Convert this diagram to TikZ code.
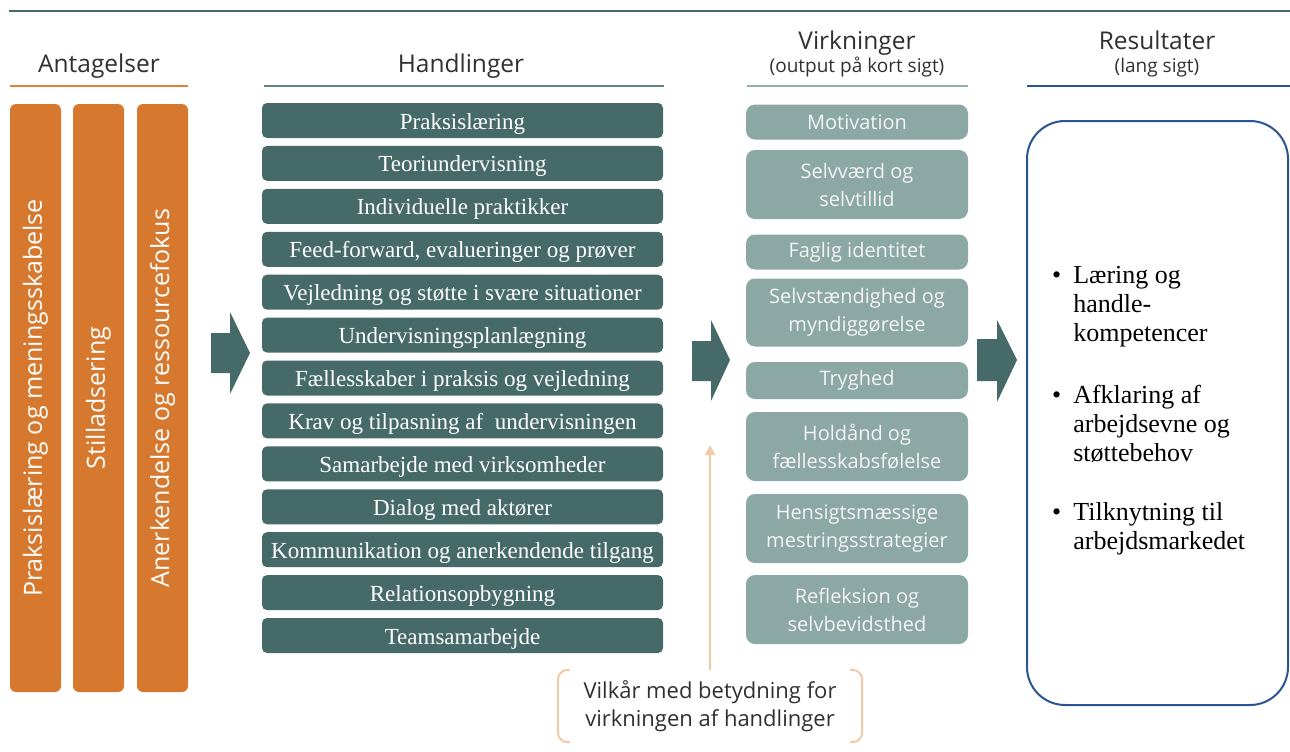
\documentclass[tikz,border=0pt]{standalone}
\usepackage{fontspec}
\setmainfont{Liberation Serif}
\newfontfamily\uifont{Open Sans}
\usetikzlibrary{arrows.meta}

\definecolor{tealdark}{HTML}{466A67}
\definecolor{tealmid}{HTML}{5E8380}
\definecolor{teallight}{HTML}{8BA8A4}
\definecolor{teallightline}{HTML}{92B2AD}
\definecolor{pillarorange}{HTML}{D6792F}
\definecolor{orangeline}{HTML}{E07F35}
\definecolor{resblue}{HTML}{2A5592}
\definecolor{peach}{HTML}{F4C9A6}
\definecolor{headgray}{HTML}{303030}
\definecolor{effecttext}{HTML}{F4F4F4}

\begin{document}
\begin{tikzpicture}[x=1pt, y=-1pt,
	head/.style={font=\uifont\fontsize{24.5}{28}\selectfont, text=headgray, inner sep=0, anchor=base},
	sub/.style={font=\uifont\fontsize{19}{22}\selectfont, text=headgray, inner sep=0, anchor=base},
	pillar/.style={fill=pillarorange, rounded corners=6, minimum width=588, minimum height=51, inner sep=0,
		rotate=90, text=white, font=\uifont\fontsize{25}{30}\selectfont},
	act/.style={fill=tealdark, rounded corners=5, minimum width=401, minimum height=35, inner sep=0,
		text height=17pt, text depth=0pt, text=white, font=\fontsize{23}{26}\selectfont},
	effect/.style={fill=teallight, rounded corners=9, minimum width=222, inner sep=0, align=center,
		text=effecttext, font=\uifont\fontsize{20}{28}\selectfont},
	blockarrow/.style={fill=tealdark},
	result/.style={font=\fontsize{26}{29}\selectfont, inner sep=0, anchor=base west},
	cond/.style={minimum width=304, minimum height=72, inner sep=0, align=center,
		text=headgray, font=\uifont\fontsize{22}{28}\selectfont},
	bracket/.style={draw=peach, line width=2, rounded corners=10},
	condarrow/.style={draw=peach, line width=2, -{Triangle[width=10pt,length=10pt]}}
	]
	\useasboundingbox (0,0) rectangle (1290,752);
	\draw[tealdark, line width=2.5] (9,11) -- (1290,11);
	
	% headers
	\node[head] (antag) at (99,72) {Antagelser};
	\node[head] (handl) at (461,72) {Handlinger};
	\node[head] (virk) at (857,50) {Virkninger};
	\node[sub] (virksub) at (857,73) {(output på kort sigt)};
	\node[head] (resul) at (1157,50) {Resultater};
	\node[sub] (resulsub) at (1157,73) {(lang sigt)};
	\draw[orangeline, line width=2] (10,86) -- (188,86);
	\draw[tealmid, line width=2] (264,86) -- (664,86);
	\draw[teallightline, line width=2] (747,86) -- (968,86);
	\draw[resblue, line width=2] (1027,86) -- (1290,86);
	
	% antagelser
	\node[pillar] (p1) at (35.5,398) {Praksislæring og meningsskabelse};
	\node[pillar] (p2) at (98.5,398) {Stilladsering};
	\node[pillar] (p3) at (162.5,398) {Anerkendelse og ressourcefokus};
	
	% handlinger
	\node[act] (a1) at (462.5,120.5) {Praksislæring};
	\node[act] (a2) at (462.5,163.4) {Teoriundervisning};
	\node[act] (a3) at (462.5,206.3) {Individuelle praktikker};
	\node[act] (a4) at (462.5,249.3) {Feed-forward, evalueringer og prøver};
	\node[act] (a5) at (462.5,292.2) {Vejledning og støtte i svære situationer};
	\node[act] (a6) at (462.5,335.1) {Undervisningsplanlægning};
	\node[act] (a7) at (462.5,378.0) {Fællesskaber i praksis og vejledning};
	\node[act] (a8) at (462.5,420.9) {Krav og tilpasning af~ undervisningen};
	\node[act] (a9) at (462.5,463.9) {Samarbejde med virksomheder};
	\node[act] (a10) at (462.5,506.8) {Dialog med aktører};
	\node[act] (a11) at (462.5,549.7) {Kommunikation og anerkendende tilgang};
	\node[act] (a12) at (462.5,592.6) {Relationsopbygning};
	\node[act] (a13) at (462.5,635.5) {Teamsamarbejde};
	
	% virkninger
	\node[effect, minimum height=35] (motiv) at (857,122) {Motivation};
	\node[effect, minimum height=69] (selvv) at (857,184.5) {Selvværd og\\selvtillid};
	\node[effect, minimum height=35] (faglig) at (857,252) {Faglig identitet};
	\node[effect, minimum height=68] (selvst) at (857,312.5) {Selvstændighed og\\myndiggørelse};
	\node[effect, minimum height=37] (tryg) at (857,380.5) {Tryghed};
	\node[effect, minimum height=69] (hold) at (857,446.5) {Holdånd og\\fællesskabsfølelse};
	\node[effect, minimum height=69] (hensigt) at (857,528.5) {Hensigtsmæssige\\mestringsstrategier};
	\node[effect, minimum height=69] (reflek) at (857,609.5) {Refleksion og\\selvbevidsthed};
	
	% resultater
	\node[draw=resblue, line width=2, rounded corners=38, minimum width=261, minimum height=584] (res) at (1157.5,413) {};
	\node[result] (r1) at (1052,283) {\begin{tabular}[t]{@{}l@{\hspace{12pt}}l@{}}\textbullet & Læring og\\ & handle-\\ & kompetencer\end{tabular}};
	\node[result] (r2) at (1052,403) {\begin{tabular}[t]{@{}l@{\hspace{12pt}}l@{}}\textbullet & Afklaring af\\ & arbejdsevne og\\ & støttebehov\end{tabular}};
	\node[result] (r3) at (1052,520) {\begin{tabular}[t]{@{}l@{\hspace{12pt}}l@{}}\textbullet & Tilknytning til\\ & arbejdsmarkedet\end{tabular}};
	
	% block arrows
	\fill[blockarrow] (211,333) -- (230,333) -- (230,312) -- (250,353) -- (230,394) -- (230,373) -- (211,373) -- cycle;
	\fill[blockarrow] (692,341) -- (711,341) -- (711,320) -- (730,360) -- (711,401) -- (711,381) -- (692,381) -- cycle;
	\fill[blockarrow] (977,339) -- (997,339) -- (997,320) -- (1017,360) -- (997,402) -- (997,381) -- (977,381) -- cycle;
	
	% vilkaar
	\node[cond] (vilk) at (710,706) {Vilkår med betydning for\\virkningen af handlinger};
	\draw[bracket] ([xshift=12]vilk.north west) -- (vilk.north west) -- (vilk.south west) -- ([xshift=12]vilk.south west);
	\draw[bracket] ([xshift=-12]vilk.north east) -- (vilk.north east) -- (vilk.south east) -- ([xshift=-12]vilk.south east);
	\coordinate (vilktip) at (710,445);
	\draw[condarrow] (vilk.north) -- (vilktip);
	
\end{tikzpicture}
\end{document}
